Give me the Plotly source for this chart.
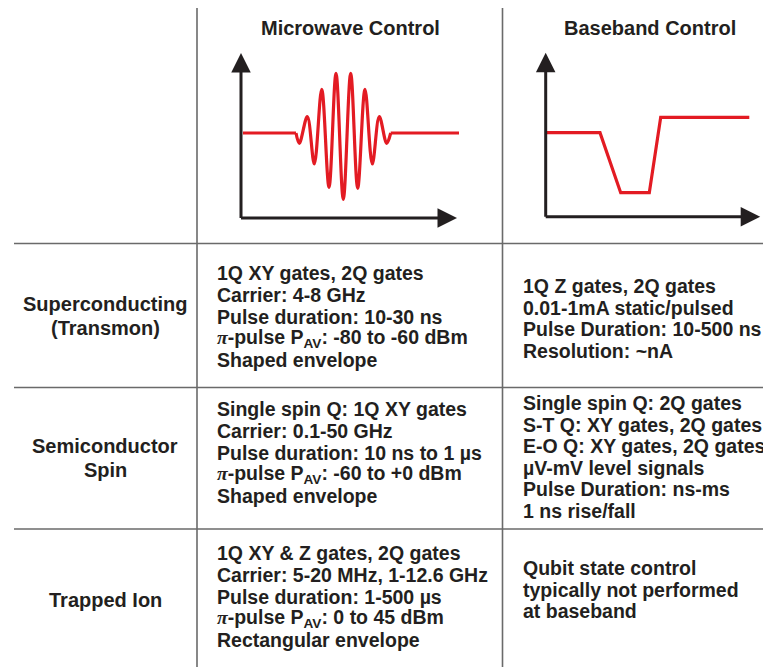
import plotly.graph_objects as go

W, H = 763, 667

# ---------------- data ----------------
column_headers = ["Microwave Control", "Baseband Control"]
row_labels = [["Superconducting", "(Transmon)"], ["Semiconductor", "Spin"], ["Trapped Ion"]]

PI = "<i><span style='font-family:Liberation Serif'>π</span></i>"
microwave_text = [
    ["1Q XY gates, 2Q gates", "Carrier: 4-8 GHz", "Pulse duration: 10-30 ns",
     PI + "-pulse P<sub>AV</sub>: -80 to -60 dBm", "Shaped envelope"],
    ["Single spin Q: 1Q XY gates", "Carrier: 0.1-50 GHz", "Pulse duration: 10 ns to 1 µs",
     PI + "-pulse P<sub>AV</sub>: -60 to +0 dBm", "Shaped envelope"],
    ["1Q XY & Z gates, 2Q gates", "Carrier: 5-20 MHz, 1-12.6 GHz", "Pulse duration: 1-500 µs",
     PI + "-pulse P<sub>AV</sub>: 0 to 45 dBm", "Rectangular envelope"],
]
baseband_text = [
    ["1Q Z gates, 2Q gates", "0.01-1mA static/pulsed", "Pulse Duration: 10-500 ns", "Resolution: ~nA"],
    ["Single spin Q: 2Q gates", "S-T Q: XY gates, 2Q gates", "E-O Q: XY gates, 2Q gates",
     "µV-mV level signals", "Pulse Duration: ns-ms", "1 ns rise/fall"],
    ["Qubit state control", "typically not performed", "at baseband"],
]

# microwave pulse (time, amplitude)
mw_base_t = [2, 55, None, 149.7, 218]
mw_base_v = [85, 85, None, 85, 85]
mw_wave_t = [55, 58.3, 66.3, 73.3, 80.7, 88, 95, 102.3, 109.7, 116.7, 124, 131.3, 138.3, 145.7, 149.7]
mw_wave_v = [85, 74.7, 101.3, 54, 128.7, 30.7, 144.7, 18.7, 144.7, 29.7, 128.7, 54, 101.3, 74.7, 85]

# baseband pulse
bb_t = [1, 54.3, 75, 103.6, 115, 203.6]
bb_v = [84, 84, 24, 24, 99.4, 99.4]

# ---------------- layout helpers ----------------
def px(x):
    return x / W

def py(y):
    return 1 - y / H

INK = "#231f20"
RED = "#e31b23"
GRID = "#6a6a6a"
FONT = "Liberation Sans, Arial, sans-serif"

fig = go.Figure()

fig.add_trace(go.Scatter(x=mw_base_t, y=mw_base_v, mode="lines", xaxis="x", yaxis="y",
                         line=dict(color=RED, width=3.2), hoverinfo="skip", showlegend=False))
fig.add_trace(go.Scatter(x=mw_wave_t, y=mw_wave_v, mode="lines", xaxis="x", yaxis="y",
                         line=dict(color=RED, width=3.2, shape="spline", smoothing=1),
                         hoverinfo="skip", showlegend=False))
fig.add_trace(go.Scatter(x=bb_t, y=bb_v, mode="lines", xaxis="x2", yaxis="y2",
                         line=dict(color=RED, width=3.2), hoverinfo="skip", showlegend=False))

hidden = dict(visible=False, showgrid=False, zeroline=False, fixedrange=True)
fig.update_layout(
    width=W, height=H, margin=dict(l=0, r=0, t=0, b=0),
    paper_bgcolor="white", plot_bgcolor="rgba(0,0,0,0)",
    xaxis=dict(domain=[px(241), px(462)], range=[0, 221], **hidden),
    yaxis=dict(domain=[py(218), py(50)], range=[0, 168], **hidden),
    xaxis2=dict(domain=[px(545.7), px(763)], range=[0, 217.3], **hidden),
    yaxis2=dict(domain=[py(216.7), py(50)], range=[0, 166.7], **hidden),
    showlegend=False,
)

ann = []
# axis arrows
for xr, yr, xt, yt in [("x", "y", 216, 165), ("x2", "y2", 214.5, 164)]:
    ann.append(dict(xref=xr, yref=yr, axref=xr, ayref=yr, x=xt, y=0, ax=-1.5, ay=0, text="",
                    showarrow=True, arrowhead=2, arrowsize=1.3, arrowwidth=3, arrowcolor=INK,
                    standoff=0, startstandoff=0))
    ann.append(dict(xref=xr, yref=yr, axref=xr, ayref=yr, x=0, y=yt, ax=0, ay=-1.5, text="",
                    showarrow=True, arrowhead=2, arrowsize=1.3, arrowwidth=3, arrowcolor=INK,
                    standoff=0, startstandoff=0))

# headers
for txt, cx in zip(column_headers, [350, 650]):
    ann.append(dict(xref="paper", yref="paper", x=px(cx), y=py(28), text=txt, showarrow=False,
                    xanchor="center", yanchor="middle",
                    font=dict(family=FONT, size=20, color=INK, weight="bold")))

# row labels
label_y = [[304, 328], [446, 470], [600]]
for lines, ys in zip(row_labels, label_y):
    for t, yy in zip(lines, ys):
        ann.append(dict(xref="paper", yref="paper", x=px(105), y=py(yy), text=t, showarrow=False,
                        xanchor="center", yanchor="middle",
                        font=dict(family=FONT, size=20, color=INK, weight="bold")))

mw_start = [273, 409, 553]
bb_start = [286, 403, 568]
SP = 21.8
for cell, y0 in zip(microwave_text, mw_start):
    for i, t in enumerate(cell):
        ann.append(dict(xref="paper", yref="paper", x=px(214.5), y=py(y0 + i * SP), text=t,
                        showarrow=False, xanchor="left", yanchor="middle",
                        font=dict(family=FONT, size=19.5, color=INK, weight="bold")))
for cell, y0 in zip(baseband_text, bb_start):
    for i, t in enumerate(cell):
        ann.append(dict(xref="paper", yref="paper", x=px(520.5), y=py(y0 + i * 21.6), text=t,
                        showarrow=False, xanchor="left", yanchor="middle",
                        font=dict(family=FONT, size=19.5, color=INK, weight="bold")))

fig.update_layout(annotations=ann)

shapes = []
for xv in [197, 502.5]:
    shapes.append(dict(type="line", xref="paper", yref="paper", x0=px(xv), x1=px(xv),
                       y0=py(8), y1=py(667), line=dict(color=GRID, width=1.6)))
for yv in [243.5, 387.5, 529]:
    shapes.append(dict(type="line", xref="paper", yref="paper", x0=px(14), x1=px(763),
                       y0=py(yv), y1=py(yv), line=dict(color=GRID, width=1.6)))
fig.update_layout(shapes=shapes)

fig.write_html("out.html", config={"displayModeBar": False},
               post_script="document.body.style.margin='0';")
